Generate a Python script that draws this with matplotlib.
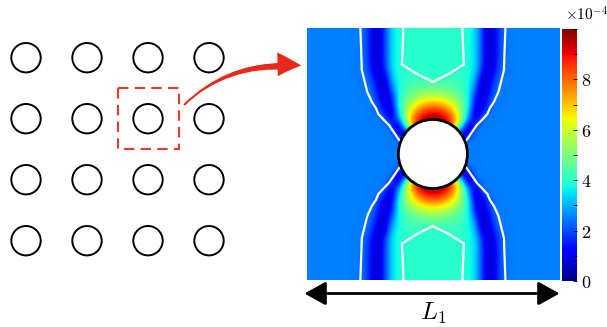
import numpy as np
import matplotlib.pyplot as plt
from matplotlib.patches import Circle, Rectangle, FancyArrowPatch

plt.rcParams['mathtext.fontset'] = 'cm'

# field values (x10^-4) on one quadrant
# rows: distance above hole centre, cols: distance right of centre (step 7)
grid_step = 7.0
quadrant = np.array([
    [2.5, 2.5, 2.5, 2.5, 2.5, 2.5, 2.5, 2.5, 2.5, 2.5, 2.5, 2.5, 2.5, 2.5, 2.5, 2.5, 2.5, 2.5, 2.5],
    [2.5, 2.5, 2.5, 2.5, 2.5, 2.5, 2.5, 2.5, 2.5, 2.5, 2.5, 2.5, 2.5, 2.5, 2.5, 2.5, 2.5, 2.5, 2.5],
    [9.0, 8.0, 5.0, 1.5, 1.0, 2.4, 2.5, 2.5, 2.5, 2.5, 2.5, 2.5, 2.5, 2.5, 2.5, 2.5, 2.5, 2.5, 2.5],
    [10.0, 10.0, 8.0, 3.5, 1.0, 0.8, 2.5, 2.5, 2.5, 2.5, 2.5, 2.5, 2.5, 2.5, 2.5, 2.5, 2.5, 2.5, 2.5],
    [10.0, 10.0, 9.2, 7.5, 4.0, 0.4, 2.0, 2.5, 2.5, 2.5, 2.5, 2.5, 2.5, 2.5, 2.5, 2.5, 2.5, 2.5, 2.5],
    [9.8, 9.6, 9.0, 7.6, 5.5, 2.5, 0.8, 2.4, 2.5, 2.5, 2.5, 2.5, 2.5, 2.5, 2.5, 2.5, 2.5, 2.5, 2.5],
    [8.9, 8.7, 8.0, 6.8, 5.1, 3.3, 0.4, 1.4, 2.4, 2.5, 2.5, 2.5, 2.5, 2.5, 2.5, 2.5, 2.5, 2.5, 2.5],
    [7.5, 7.3, 6.8, 6.0, 5.0, 3.8, 0.9, 0.9, 2.0, 2.5, 2.5, 2.5, 2.5, 2.5, 2.5, 2.5, 2.5, 2.5, 2.5],
    [6.0, 5.9, 5.6, 5.1, 4.6, 3.7, 1.2, 0.6, 1.8, 2.5, 2.5, 2.5, 2.5, 2.5, 2.5, 2.5, 2.5, 2.5, 2.5],
    [5.1, 5.0, 4.85, 4.6, 4.3, 3.8, 2.0, 0.3, 1.4, 2.4, 2.5, 2.5, 2.5, 2.5, 2.5, 2.5, 2.5, 2.5, 2.5],
    [4.4, 4.4, 4.35, 4.3, 4.15, 3.8, 2.6, 0.25, 1.2, 2.25, 2.5, 2.5, 2.5, 2.5, 2.5, 2.5, 2.5, 2.5, 2.5],
    [4.0, 4.0, 4.15, 4.15, 4.05, 3.85, 3.1, 0.6, 0.9, 2.0, 2.5, 2.5, 2.5, 2.5, 2.5, 2.5, 2.5, 2.5, 2.5],
    [4.0, 4.0, 4.0, 4.0, 4.05, 3.85, 3.35, 1.5, 0.4, 1.7, 2.4, 2.5, 2.5, 2.5, 2.5, 2.5, 2.5, 2.5, 2.5],
    [4.0, 4.0, 4.0, 4.0, 4.0, 3.85, 3.4, 1.6, 0.4, 1.6, 2.4, 2.5, 2.5, 2.5, 2.5, 2.5, 2.5, 2.5, 2.5],
    [4.0, 4.0, 4.0, 4.0, 4.0, 3.85, 3.4, 1.7, 0.35, 1.5, 2.35, 2.5, 2.5, 2.5, 2.5, 2.5, 2.5, 2.5, 2.5],
    [4.0, 4.0, 4.0, 4.0, 4.0, 3.85, 3.4, 1.7, 0.35, 1.5, 2.35, 2.5, 2.5, 2.5, 2.5, 2.5, 2.5, 2.5, 2.5],
    [4.0, 4.0, 4.0, 4.0, 4.0, 3.85, 3.4, 1.7, 0.35, 1.5, 2.35, 2.5, 2.5, 2.5, 2.5, 2.5, 2.5, 2.5, 2.5],
    [4.0, 4.0, 4.0, 4.0, 4.0, 3.85, 3.4, 1.7, 0.35, 1.5, 2.35, 2.5, 2.5, 2.5, 2.5, 2.5, 2.5, 2.5, 2.5],
    [4.0, 4.0, 4.0, 4.0, 4.0, 3.85, 3.4, 1.7, 0.35, 1.5, 2.35, 2.5, 2.5, 2.5, 2.5, 2.5, 2.5, 2.5, 2.5],
])

# white contour lines (upper right quadrant), mirrored to the others
outer_dx = np.array([72.5, 71.5, 71.0, 67.3, 65.5, 61.0, 57.0, 54.5, 49.0, 44.0, 38.5, 34.0, 31.8])
outer_dy = np.array([127.0, 100.0, 84.0, 69.0, 62.0, 52.0, 46.0, 40.0, 34.0, 29.0, 21.0, 14.3, 12.5])
plateau_dx = np.array([29.5, 30.0, 31.0, 16.0, 0.0])
plateau_dy = np.array([127.0, 110.0, 89.5, 80.0, 72.0])

hole_radius = 34.5
half_size = 126.0
cbar_ticks = [0, 2, 4, 6, 8]

# left schematic: 4x4 array of holes, one highlighted
n_rows, n_cols = 4, 4
pick_row, pick_col = 1, 2

fig = plt.figure(figsize=(6.07, 3.27), dpi=100)

# full field by symmetry
half = np.vstack([quadrant[::-1], quadrant[1:]])
field = np.hstack([half[:, ::-1], half[:, 1:]])
pad = half_size + grid_step / 2

ax = fig.add_axes([0.5053, 0.1416, 0.4157, 0.775])
im = ax.imshow(field, origin='lower', cmap='jet', vmin=0, vmax=10,
               extent=(-pad, pad, -pad, pad), interpolation='bicubic')
for sx in (1, -1):
    for sy in (1, -1):
        ax.plot(sx * outer_dx, sy * outer_dy, color='white', lw=1.6)
        ax.plot(sx * plateau_dx, sy * plateau_dy, color='white', lw=1.6)
ax.add_patch(Circle((0, 0), hole_radius, fc='white', ec='black', lw=2.0, zorder=3))
ax.set_xlim(-half_size, half_size)
ax.set_ylim(-half_size, half_size)
ax.axis('off')

cax = fig.add_axes([0.9254, 0.1407, 0.0247, 0.7706])
cb = fig.colorbar(im, cax=cax, ticks=cbar_ticks)
cb.outline.set_visible(False)
cax.set_yticklabels([r'$%d$' % t for t in cbar_ticks], fontsize=13)
cax.yaxis.set_minor_locator(plt.MultipleLocator(1))
cax.tick_params(which='both', direction='in', length=3, width=0.6, pad=3)
fig.text(0.930, 0.938, r'$\times10^{-4}$', fontsize=11, ha='left', va='baseline')

# overlay in pixel units for schematic and arrows
ov = fig.add_axes([0, 0, 1, 1], zorder=5)
ov.set_xlim(0, 607)
ov.set_ylim(327, 0)
ov.axis('off')

x0, y0, pitch = 26.0, 57.7, 61.0
for r in range(n_rows):
    for c in range(n_cols):
        ov.add_patch(Circle((x0 + c * pitch, y0 + r * pitch), 14.7,
                            fc='none', ec='black', lw=1.4))

cx, cy = x0 + pick_col * pitch, y0 + pick_row * pitch
ov.add_patch(Rectangle((cx - 30.5, cy - 30.5), 61, 61, fc='none', ec='#e8392b',
                       lw=1.5, ls=(0, (5, 3))))

# red zoom arrow: thin tail, widening towards the head
red = '#e8281a'
ov.add_patch(FancyArrowPatch((182, 107), (304, 66), connectionstyle='arc3,rad=-0.25',
                             arrowstyle='simple,head_length=0.95,head_width=0.95,tail_width=0.08',
                             mutation_scale=18, color=red, lw=0))
ov.add_patch(FancyArrowPatch((290, 66.5), (182, 107), connectionstyle='arc3,rad=0.22',
                             arrowstyle='wedge,tail_width=0.28,shrink_factor=0.5',
                             mutation_scale=18, color=red, lw=0))

ov.annotate('', xy=(559.5, 293.5), xytext=(304.5, 293.5),
            arrowprops=dict(arrowstyle='<|-|>,head_length=0.65,head_width=0.36',
                            mutation_scale=20, color='black', lw=2.0,
                            shrinkA=0, shrinkB=0))
ov.text(433, 313, r'$L_1$', fontsize=18, ha='center', va='center')

fig.savefig('out.png', dpi=100)
